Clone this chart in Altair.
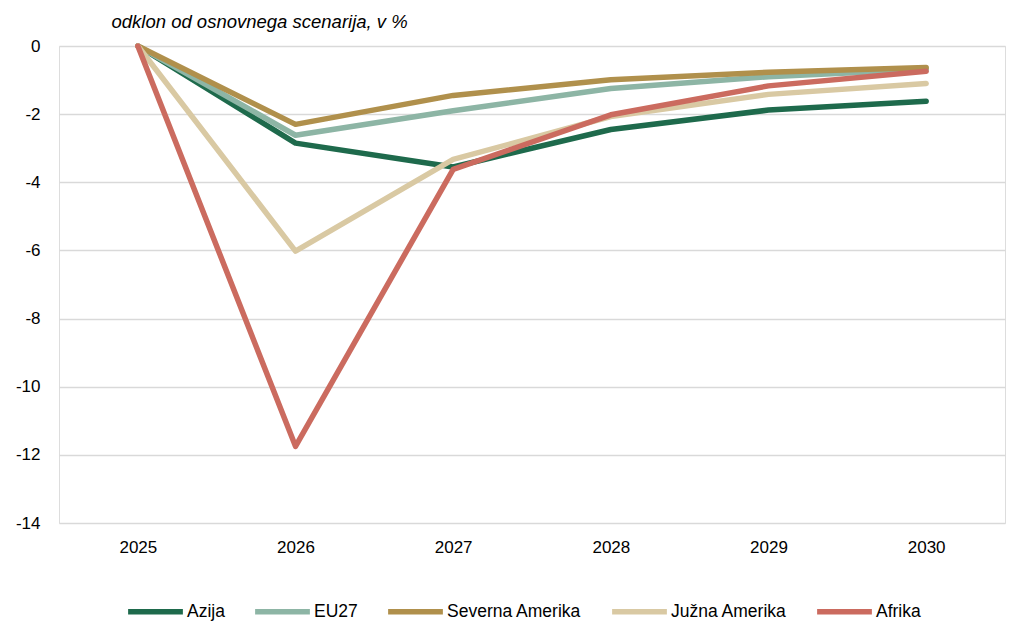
import altair as alt
import pandas as pd

# Deviation from the baseline scenario, in %
years = ["2025", "2026", "2027", "2028", "2029", "2030"]
azija = [0, -2.85, -3.55, -2.45, -1.88, -1.62]
eu27 = [0, -2.62, -1.90, -1.25, -0.90, -0.68]
severna_amerika = [0, -2.30, -1.45, -0.99, -0.77, -0.63]
juzna_amerika = [0, -6.02, -3.33, -2.07, -1.42, -1.10]
afrika = [0, -11.75, -3.62, -2.02, -1.17, -0.74]

series_names = ["Azija", "EU27", "Severna Amerika", "Južna Amerika", "Afrika"]
series_values = [azija, eu27, severna_amerika, juzna_amerika, afrika]
series_colors = ["#1e6a4c", "#8db5a5", "#b0904c", "#d9c9a3", "#cb6b5f"]
y_ticks = [0, -2, -4, -6, -8, -10, -12, -14]

rows = []
for order, (name, vals) in enumerate(zip(series_names, series_values)):
    for yr, v in zip(years, vals):
        rows.append({"leto": yr, "regija": name, "vrednost": v, "red": order})
df = pd.DataFrame(rows)

FONT = "Liberation Sans"

chart = (
    alt.Chart(df)
    .mark_line(strokeWidth=5.5, strokeCap="round", strokeJoin="round")
    .encode(
        x=alt.X(
            "leto:O",
            scale=alt.Scale(type="point", padding=0.5),
            axis=alt.Axis(
                title=None,
                labelAngle=0,
                domain=False,
                ticks=False,
                labelPadding=16,
                labelFontSize=17,
                labelFont=FONT,
                labelColor="#000000",
            ),
        ),
        y=alt.Y(
            "vrednost:Q",
            scale=alt.Scale(domain=[-14, 0], nice=False, zero=False),
            axis=alt.Axis(
                values=y_ticks,
                labelExpr="'' + datum.value",
                domain=False,
                ticks=False,
                grid=True,
                gridColor="#d9d9d9",
                gridWidth=1.5,
                labelPadding=19,
                labelFontSize=17,
                labelFont=FONT,
                labelColor="#000000",
                title="odklon od osnovnega scenarija, v %",
                titleAngle=0,
                titleAlign="left",
                titleBaseline="alphabetic",
                titleX=52,
                titleY=-19,
                titleFont=FONT,
                titleFontSize=18.5,
                titleFontStyle="italic",
                titleFontWeight="normal",
                titleColor="#000000",
            ),
        ),
        color=alt.Color(
            "regija:N",
            scale=alt.Scale(domain=series_names, range=series_colors),
            sort=series_names,
            legend=alt.Legend(
                title=None,
                orient="none",
                direction="horizontal",
                legendX=66,
                legendY=535,
                symbolType="stroke",
                symbolSize=3000,
                symbolStrokeWidth=5.5,
                labelFont=FONT,
                labelFontSize=17.5,
                labelColor="#000000",
                labelOffset=1,
                columnPadding=19,
            ),
        ),
        order=alt.Order("red:Q"),
        detail="regija:N",
    )
    .properties(
        width=946,
        height=477,
        autosize=alt.AutoSizeParams(type="none"),
        padding={"left": 59, "top": 46, "right": 4, "bottom": 101},
    )
    .configure_view(stroke=None)
    .configure(background="#ffffff")
)

chart.save("out.html", embed_options={"renderer": "svg", "actions": False})
